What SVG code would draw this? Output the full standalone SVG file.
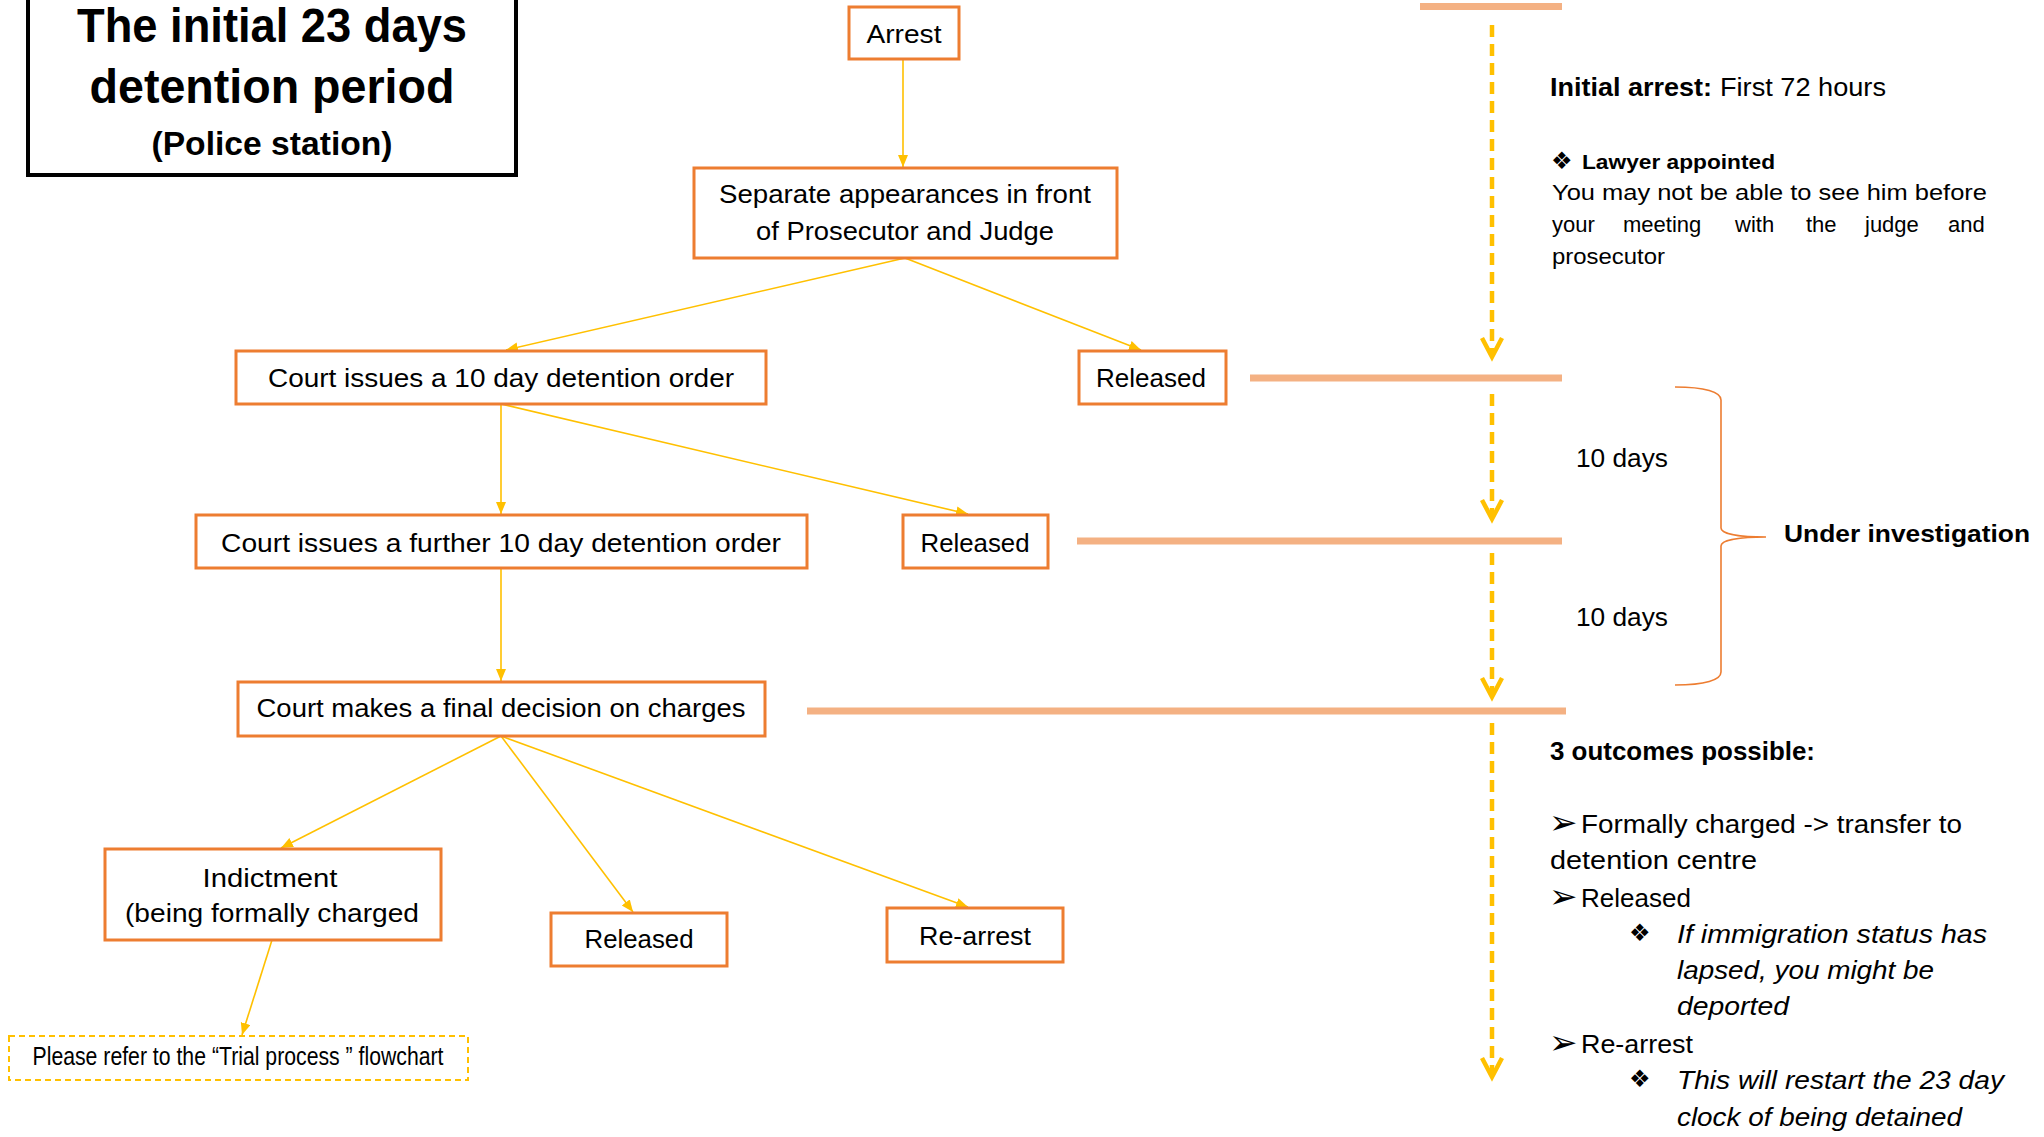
<svg xmlns="http://www.w3.org/2000/svg" width="2044" height="1137" viewBox="0 0 2044 1137">
<style>
.box{fill:#fff;stroke:#ED7D31;stroke-width:3}
.t{font-family:"Liberation Sans",Arial,sans-serif;font-size:26.5px;fill:#000;text-anchor:middle}
.conn{stroke:#FFC000;stroke-width:1.6;fill:none;marker-end:url(#ah)}
.bar{stroke:#F4B183;stroke-width:7}
.dash{stroke:#FFC000;stroke-width:4.5;stroke-dasharray:12 7;fill:none}
.chev{stroke:#FFC000;stroke-width:4.5;fill:none}
.r{font-family:"Liberation Sans",Arial,sans-serif;fill:#000}
.b{font-weight:bold}
.i{font-style:italic}
.sym{font-family:"DejaVu Sans",sans-serif;fill:#000}
</style>
<defs>
<marker id="ah" markerUnits="userSpaceOnUse" markerWidth="13" markerHeight="11" refX="12" refY="5" orient="auto">
<path d="M0,0 L12,5 L0,10 z" fill="#FFC000"/>
</marker>
</defs>

<g id="title">
<rect x="28" y="-3" width="488" height="178" fill="#fff" stroke="#000" stroke-width="4"/>
<text class="r b" x="272" y="42" font-size="49" text-anchor="middle" textLength="390" lengthAdjust="spacingAndGlyphs">The initial 23 days</text>
<text class="r b" x="272" y="103" font-size="49" text-anchor="middle" textLength="365" lengthAdjust="spacingAndGlyphs">detention period</text>
<text class="r b" x="272" y="155" font-size="33" text-anchor="middle" textLength="241" lengthAdjust="spacingAndGlyphs">(Police station)</text>
</g>

<g id="connectors">
<line class="conn" x1="903" y1="60" x2="903" y2="167"/>
<line class="conn" x1="905" y1="258" x2="506" y2="350"/>
<line class="conn" x1="905" y1="258" x2="1141" y2="350"/>
<line class="conn" x1="501" y1="404" x2="501" y2="514"/>
<line class="conn" x1="501" y1="404" x2="968" y2="514"/>
<line class="conn" x1="501" y1="568" x2="501" y2="681"/>
<line class="conn" x1="501" y1="736" x2="281" y2="848"/>
<line class="conn" x1="501" y1="736" x2="633" y2="912"/>
<line class="conn" x1="501" y1="736" x2="968" y2="907"/>
<line class="conn" x1="272" y1="940" x2="242" y2="1035"/>
</g>

<g id="arrest">
<rect class="box" x="849" y="7" width="110" height="52"/>
<text class="t" x="904" y="43" textLength="75" lengthAdjust="spacingAndGlyphs">Arrest</text>
</g>
<g id="appearances">
<rect class="box" x="694" y="168" width="423" height="90"/>
<text class="t" x="905" y="203" textLength="372" lengthAdjust="spacingAndGlyphs">Separate appearances in front</text>
<text class="t" x="905" y="240" textLength="298" lengthAdjust="spacingAndGlyphs">of Prosecutor and Judge</text>
</g>
<g id="court10">
<rect class="box" x="236" y="351" width="530" height="53"/>
<text class="t" x="501" y="387" textLength="466" lengthAdjust="spacingAndGlyphs">Court issues a 10 day detention order</text>
</g>
<g id="released1">
<rect class="box" x="1079" y="351" width="147" height="53"/>
<text class="t" x="1151" y="387" textLength="110" lengthAdjust="spacingAndGlyphs">Released</text>
</g>
<g id="courtfurther">
<rect class="box" x="196" y="515" width="611" height="53"/>
<text class="t" x="501" y="552" textLength="560" lengthAdjust="spacingAndGlyphs">Court issues a further 10 day detention order</text>
</g>
<g id="released2">
<rect class="box" x="903" y="515" width="145" height="53"/>
<text class="t" x="975" y="552" textLength="109" lengthAdjust="spacingAndGlyphs">Released</text>
</g>
<g id="courtfinal">
<rect class="box" x="238" y="682" width="527" height="54"/>
<text class="t" x="501" y="717" textLength="489" lengthAdjust="spacingAndGlyphs">Court makes a final decision on charges</text>
</g>
<g id="indictment">
<rect class="box" x="105" y="849" width="336" height="91"/>
<text class="t" x="270" y="887" textLength="135" lengthAdjust="spacingAndGlyphs">Indictment</text>
<text class="t" x="272" y="922" textLength="294" lengthAdjust="spacingAndGlyphs">(being formally charged</text>
</g>
<g id="released3">
<rect class="box" x="551" y="913" width="176" height="53"/>
<text class="t" x="639" y="948" textLength="109" lengthAdjust="spacingAndGlyphs">Released</text>
</g>
<g id="rearrest">
<rect class="box" x="887" y="908" width="176" height="54"/>
<text class="t" x="975" y="945" textLength="112" lengthAdjust="spacingAndGlyphs">Re-arrest</text>
</g>
<g id="trial">
<rect x="9" y="1036" width="459" height="44" fill="#fff" stroke="#FFC000" stroke-width="2" stroke-dasharray="6 4"/>
<text class="t" x="238" y="1065" font-size="18.6" textLength="411" lengthAdjust="spacingAndGlyphs">Please refer to the “Trial process ” flowchart</text>
</g>

<g id="timeline">
<line class="bar" x1="1420" y1="6.5" x2="1562" y2="6.5"/>
<line class="bar" x1="1250" y1="378" x2="1562" y2="378"/>
<line class="bar" x1="1077" y1="541" x2="1562" y2="541"/>
<line class="bar" x1="807" y1="711" x2="1566" y2="711"/>
<line class="dash" x1="1492" y1="25" x2="1492" y2="355"/>
<path class="chev" d="M1482,338 L1492,357 L1502,338"/>
<line class="dash" x1="1492" y1="394" x2="1492" y2="517"/>
<path class="chev" d="M1482,500 L1492,519 L1502,500"/>
<line class="dash" x1="1492" y1="553" x2="1492" y2="695"/>
<path class="chev" d="M1482,678 L1492,697 L1502,678"/>
<line class="dash" x1="1492" y1="723" x2="1492" y2="1075"/>
<path class="chev" d="M1482,1058 L1492,1077 L1502,1058"/>
<path d="M1675,387 C1705,387 1721,392 1721,400 L1721,528 C1721,534 1740,537 1766,537 C1740,537 1721,540 1721,546 L1721,672 C1721,680 1705,685 1675,685" fill="none" stroke="#ED7D31" stroke-width="1.6"/>
</g>

<g id="notes">
<text class="r b" x="1550" y="96" font-size="26.5" textLength="162" lengthAdjust="spacingAndGlyphs">Initial arrest:</text>
<text class="r" x="1720" y="96" font-size="26.5" textLength="166" lengthAdjust="spacingAndGlyphs">First 72 hours</text>
<text class="sym" x="1551" y="169" font-size="24">❖</text>
<text class="r b" x="1582" y="169" font-size="21" textLength="193" lengthAdjust="spacingAndGlyphs">Lawyer appointed</text>
<text class="r" x="1552" y="200" font-size="22" textLength="435" lengthAdjust="spacingAndGlyphs">You may not be able to see him before</text>
<text class="r" y="232" font-size="22"><tspan x="1552">your </tspan><tspan x="1623">meeting </tspan><tspan x="1735">with </tspan><tspan x="1806">the </tspan><tspan x="1865">judge </tspan><tspan x="1948">and</tspan></text>
<text class="r" x="1552" y="264" font-size="22" textLength="113" lengthAdjust="spacingAndGlyphs">prosecutor</text>

<text class="r" x="1576" y="467" font-size="26.5" textLength="92" lengthAdjust="spacingAndGlyphs">10 days</text>
<text class="r" x="1576" y="626" font-size="26.5" textLength="92" lengthAdjust="spacingAndGlyphs">10 days</text>
<text class="r b" x="1784" y="542" font-size="24.5" textLength="246" lengthAdjust="spacingAndGlyphs">Under investigation</text>

<text class="r b" x="1550" y="760" font-size="25.5" textLength="265" lengthAdjust="spacingAndGlyphs">3 outcomes possible:</text>
<text class="sym" x="1549" y="834" font-size="34">➢</text>
<text class="r" x="1581" y="833" font-size="25" textLength="381" lengthAdjust="spacingAndGlyphs">Formally charged -&gt; transfer to</text>
<text class="r" x="1550" y="869" font-size="25" textLength="207" lengthAdjust="spacingAndGlyphs">detention centre</text>
<text class="sym" x="1549" y="908" font-size="34">➢</text>
<text class="r" x="1581" y="907" font-size="25" textLength="110" lengthAdjust="spacingAndGlyphs">Released</text>
<text class="sym" x="1629" y="941" font-size="24">❖</text>
<text class="r i" x="1677" y="943" font-size="25" textLength="310" lengthAdjust="spacingAndGlyphs">If immigration status has</text>
<text class="r i" x="1677" y="979" font-size="25" textLength="257" lengthAdjust="spacingAndGlyphs">lapsed, you might be</text>
<text class="r i" x="1677" y="1015" font-size="25" textLength="112" lengthAdjust="spacingAndGlyphs">deported</text>
<text class="sym" x="1549" y="1054" font-size="34">➢</text>
<text class="r" x="1581" y="1053" font-size="25" textLength="112" lengthAdjust="spacingAndGlyphs">Re-arrest</text>
<text class="sym" x="1629" y="1087" font-size="24">❖</text>
<text class="r i" x="1677" y="1089" font-size="25" textLength="327" lengthAdjust="spacingAndGlyphs">This will restart the 23 day</text>
<text class="r i" x="1677" y="1126" font-size="25" textLength="285" lengthAdjust="spacingAndGlyphs">clock of being detained</text>
</g>
</svg>
